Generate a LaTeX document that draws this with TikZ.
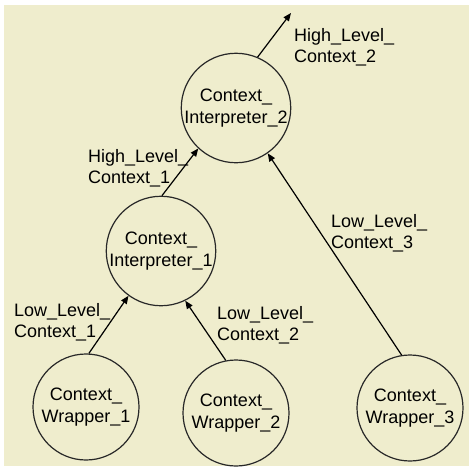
\documentclass[tikz,border=0pt]{standalone}
\usepackage{fontspec}
\setmainfont{Liberation Sans}
\usetikzlibrary{arrows.meta}
\definecolor{paper}{RGB}{239,237,205}
\definecolor{ink}{RGB}{40,40,40}
\tikzset{
  ctx/.style={circle, draw=ink, line width=1.2pt, minimum size=106pt, inner sep=0pt,
              align=center, font=\fontsize{18}{21.5}\selectfont},
  arr/.style={draw=black, line width=1.2pt, -{Triangle[length=8pt,width=6.5pt]}},
  lbl/.style={anchor=base west, inner sep=0pt, align=left,
              font=\fontsize{18}{20.5}\selectfont}
}
\begin{document}
\begin{tikzpicture}[x=1pt,y=-1pt]
  \useasboundingbox (0,0) rectangle (469,469);
  \fill[white] (0,0) rectangle (469,469);
  \fill[paper] (4,5) rectangle (469,465.5);

  % context nodes
  \node[ctx] (ci2) at (236,108) {Context\_\\Interpreter\_2};
  \node[ctx] (ci1) at (161,251) {Context\_\\Interpreter\_1};
  \node[ctx] (w1)  at (86,407)  {Context\_\\Wrapper\_1};
  \node[ctx] (w2)  at (236,413) {Context\_\\Wrapper\_2};
  \node[ctx] (w3)  at (410,408) {Context\_\\Wrapper\_3};
  \coordinate (out) at (291,13);

  % data flow
  \draw[arr] (ci2.67)  -- (out);
  \draw[arr] (ci1.89)  -- (ci2.227);
  \draw[arr] (w3.99)   -- (ci2.305);
  \draw[arr] (w1.87)   -- (ci1.234);
  \draw[arr] (w2.101)  -- (ci1.296);

  % flow labels (anchored at the baseline of their last line)
  \node[lbl] (l1) at (294,62)  {High\_Level\_\\Context\_2};
  \node[lbl] (l2) at (88,183)  {High\_Level\_\\Context\_1};
  \node[lbl] (l3) at (331,248) {Low\_Level\_\\Context\_3};
  \node[lbl] (l4) at (14,337)  {Low\_Level\_\\Context\_1};
  \node[lbl] (l5) at (217,340) {Low\_Level\_\\Context\_2};
\end{tikzpicture}
\end{document}
